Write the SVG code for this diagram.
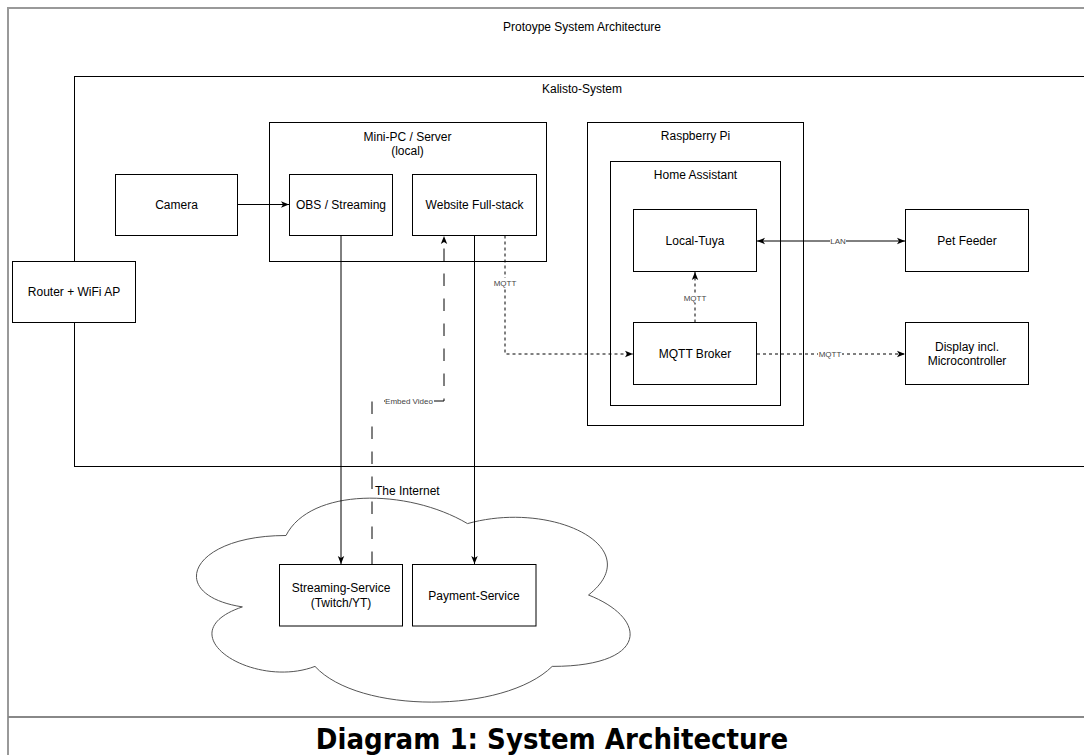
<svg xmlns="http://www.w3.org/2000/svg" width="1084" height="755" viewBox="0 0 1084 755">
  <style>
    .box { fill: #ffffff; stroke: #000000; stroke-width: 1; }
    .cont { fill: none; stroke: #000000; stroke-width: 1; }
    .t { font-family: "Liberation Sans", Arial, sans-serif; font-size: 12px; fill: #000000; text-anchor: middle; }
    .el { font-family: "Liberation Sans", Arial, sans-serif; font-size: 8px; fill: #444444; text-anchor: middle; }
    .lbg { fill: #ffffff; stroke: none; }
    .edge { fill: none; stroke: #000000; stroke-width: 1; }
    .dot { stroke-dasharray: 3 3; }
    .dash { stroke-dasharray: 12.5 12.5; }
    .cap { font-family: "DejaVu Sans Condensed", "DejaVu Sans", sans-serif; font-stretch: condensed; font-weight: bold; font-size: 29px; fill: #000000; text-anchor: middle; }
  </style>
  <defs>
    <marker id="arr" viewBox="0 0 10 10" refX="10" refY="5" markerWidth="8" markerHeight="8" markerUnits="userSpaceOnUse" orient="auto-start-reverse">
      <path d="M0,1 L10,5 L0,9 L2.5,5 Z" fill="#000000"/>
    </marker>
  </defs>
  <rect x="0" y="0" width="1084" height="755" fill="#ffffff"/>

  <!-- frame -->
  <g id="frame">
    <rect x="8" y="8" width="1160" height="709" fill="none" stroke="#999999" stroke-width="2"/>
    <line x1="8" y1="717" x2="8" y2="755" stroke="#999999" stroke-width="2"/>
    <line x1="8" y1="717" x2="1084" y2="717" stroke="#888888" stroke-width="2"/>
    <text class="t" x="582" y="31">Protoype System Architecture</text>
  </g>

  <g id="kalisto">
    <rect class="cont" x="74.5" y="76.5" width="1016" height="390" stroke="#333333"/>
    <text class="t" x="582" y="93">Kalisto-System</text>
  </g>

  <g id="router">
    <rect class="box" x="12.5" y="261.5" width="123" height="61"/>
    <text class="t" x="74" y="296">Router + WiFi AP</text>
  </g>

  <g id="minipc">
    <rect class="cont" x="269.5" y="122.5" width="277" height="139"/>
    <text class="t" x="407.5" y="140.5">Mini-PC / Server</text>
    <text class="t" x="407.5" y="155">(local)</text>
  </g>

  <g id="camera">
    <rect class="box" x="115.5" y="174.5" width="122" height="61"/>
    <text class="t" x="176.5" y="209">Camera</text>
  </g>

  <g id="obs">
    <rect class="box" x="289.5" y="174.5" width="103" height="61"/>
    <text class="t" x="341" y="209">OBS / Streaming</text>
  </g>

  <g id="website">
    <rect class="box" x="412.5" y="174.5" width="124" height="61"/>
    <text class="t" x="474.5" y="209">Website Full-stack</text>
  </g>

  <g id="raspberry">
    <rect class="cont" x="587.5" y="122.5" width="216" height="303" stroke="#333333" stroke-width="1.3"/>
    <text class="t" x="695.5" y="139.5">Raspberry Pi</text>
  </g>

  <g id="homeassistant">
    <rect class="cont" x="610.5" y="161.5" width="170" height="244" stroke="#555555" stroke-width="1.5"/>
    <text class="t" x="695.5" y="179">Home Assistant</text>
  </g>

  <g id="localtuya">
    <rect class="box" x="633.5" y="209.5" width="123" height="62"/>
    <text class="t" x="695" y="245">Local-Tuya</text>
  </g>

  <g id="broker">
    <rect class="box" x="633.5" y="322.5" width="123" height="62"/>
    <text class="t" x="695" y="358">MQTT Broker</text>
  </g>

  <g id="petfeeder">
    <rect class="box" x="905.5" y="209.5" width="123" height="62"/>
    <text class="t" x="967" y="245">Pet Feeder</text>
  </g>

  <g id="display">
    <rect class="box" x="905.5" y="322.5" width="123" height="62"/>
    <text class="t" x="967" y="350.5">Display incl.</text>
    <text class="t" x="967" y="365">Microcontroller</text>
  </g>

  <g id="internet">
    <path d="M286,535.5 C189.2,535.5 165,595 242.4,606.9 C165,633.1 252.1,690.2 315,666.4 C358.6,714 503.8,714 552.2,666.4 C649,666.4 649,618.8 588.5,595 C649,547.4 552.2,499.8 467.5,523.6 C407,487.9 310.2,487.9 286,535.5 Z" fill="#ffffff" stroke="#555555" stroke-width="1"/>
    <text class="t" x="375" y="495" text-anchor="start" style="text-anchor:start">The Internet</text>
  </g>

  <g id="streaming">
    <rect class="box" x="279.5" y="564.5" width="123" height="61.5"/>
    <text class="t" x="341" y="591.5">Streaming-Service</text>
    <text class="t" x="341" y="606.5">(Twitch/YT)</text>
  </g>

  <g id="payment">
    <rect class="box" x="412.5" y="564.5" width="123.5" height="61.5"/>
    <text class="t" x="474" y="599.5">Payment-Service</text>
  </g>

  <g id="connectors">
    <path class="edge" d="M238,204.5 H289" marker-end="url(#arr)"/>
    <path class="edge" d="M341,235.5 V564" marker-end="url(#arr)"/>
    <path class="edge" d="M474.5,235.5 V564" marker-end="url(#arr)"/>
    <path class="edge dash" d="M372,564 V401 H444 V236" marker-end="url(#arr)"/>
    <path class="edge dot" d="M505,235.5 V354 H633" marker-end="url(#arr)"/>
    <path class="edge dot" d="M695,322.5 V272" marker-end="url(#arr)"/>
    <path class="edge" d="M757,241 H905" marker-start="url(#arr)" marker-end="url(#arr)"/>
    <path class="edge dot" d="M757,354 H905" marker-end="url(#arr)"/>

    <rect class="lbg" x="493" y="278" width="24" height="10"/>
    <text class="el" x="505" y="286">MQTT</text>
    <rect class="lbg" x="683" y="293" width="24" height="10"/>
    <text class="el" x="695" y="301">MQTT</text>
    <rect class="lbg" x="830" y="236" width="16" height="10"/>
    <text class="el" x="838" y="244">LAN</text>
    <rect class="lbg" x="818" y="349" width="24" height="10"/>
    <text class="el" x="830" y="357">MQTT</text>
    <rect class="lbg" x="385" y="396" width="48" height="10"/>
    <text class="el" x="409" y="404">Embed Video</text>
  </g>

  <g id="caption">
    <text class="cap" x="552" y="748.5">Diagram 1: System Architecture</text>
  </g>
</svg>
